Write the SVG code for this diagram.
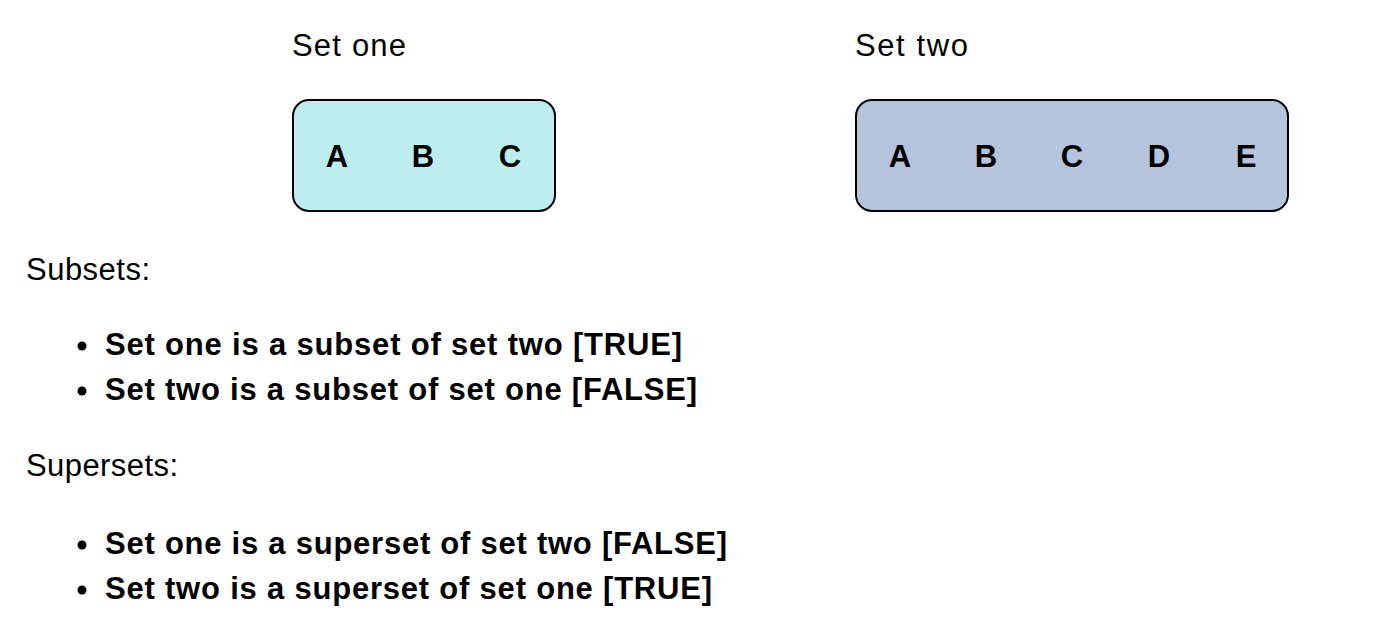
<svg xmlns="http://www.w3.org/2000/svg" width="1394" height="630" viewBox="0 0 1394 630">
<style>
.t{font-family:"Liberation Sans",Arial,sans-serif;font-size:31px;fill:#000}
.b{font-family:"Liberation Sans",Arial,sans-serif;font-size:31px;font-weight:bold;fill:#000}
.l{font-family:"Liberation Sans",Arial,sans-serif;font-size:31px;font-weight:bold;fill:#000;text-anchor:middle}
.box{stroke:#000;stroke-width:2}
</style>
<rect width="1394" height="630" fill="#fff"/>
<g id="set-one">
<text class="t" x="292" y="56" textLength="114" lengthAdjust="spacing">Set one</text>
<rect class="box" x="293" y="100" width="262" height="111" rx="16" fill="#bdedee"/>
<text class="l" x="337" y="167">A</text>
<text class="l" x="423" y="167">B</text>
<text class="l" x="510" y="167">C</text>
</g>
<g id="set-two">
<text class="t" x="855" y="56" textLength="113" lengthAdjust="spacing">Set two</text>
<rect class="box" x="856" y="100" width="432" height="111" rx="16" fill="#b3c4dc"/>
<text class="l" x="900" y="167">A</text>
<text class="l" x="986" y="167">B</text>
<text class="l" x="1072" y="167">C</text>
<text class="l" x="1159" y="167">D</text>
<text class="l" x="1246" y="167">E</text>
</g>
<g id="connectors"/>
<g id="subsets">
<text class="t" x="26" y="280" textLength="124" lengthAdjust="spacing">Subsets:</text>
<circle cx="82" cy="346" r="4.5"/>
<text class="b" x="105" y="355" textLength="577" lengthAdjust="spacing">Set one is a subset of set two [TRUE]</text>
<circle cx="82" cy="391" r="4.5"/>
<text class="b" x="105" y="400" textLength="592" lengthAdjust="spacing">Set two is a subset of set one [FALSE]</text>
</g>
<g id="supersets">
<text class="t" x="26" y="476" textLength="152" lengthAdjust="spacing">Supersets:</text>
<circle cx="82" cy="545" r="4.5"/>
<text class="b" x="105" y="554" textLength="622" lengthAdjust="spacing">Set one is a superset of set two [FALSE]</text>
<circle cx="82" cy="590" r="4.5"/>
<text class="b" x="105" y="599" textLength="607" lengthAdjust="spacing">Set two is a superset of set one [TRUE]</text>
</g>
</svg>
